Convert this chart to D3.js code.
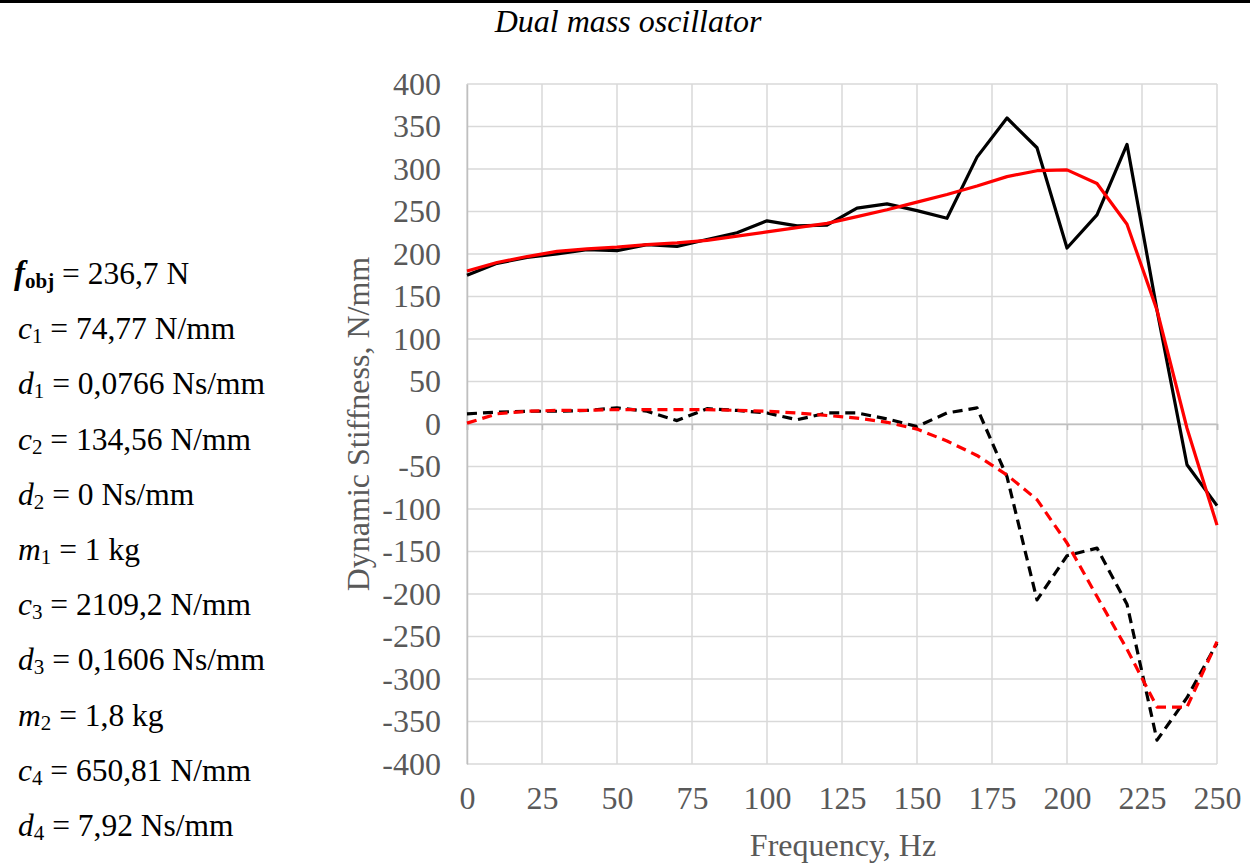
<!DOCTYPE html>
<html>
<head>
<meta charset="utf-8">
<script src="https://cdn.jsdelivr.net/npm/d3@7"></script>
<style>
  body { margin: 0; background: #fff; }
  svg { display: block; font-family: "Liberation Serif", "Times New Roman", serif; }
</style>
</head>
<body>
<svg id="chart" width="1250" height="865"></svg>
<script>
// ---- data ----
const freq = [0,10,20,30,40,50,60,70,80,90,100,110,120,130,140,150,160,170,180,190,200,210,220,230,240,250];
const realMeasured = [175,189,196,200,205,204,211,209,217,225,239,233,234,254,259,251,242,314,360,325,207,246,329,134,-48,-96];
const realModel    = [180,190,197,203,206,208,211,213,216,221,226,231,236,244,252,261,270,280,291,298,299,283,235,134,-5,-119];
const imagMeasured = [12,14,15,15,16,19,15,4,18,16,13,5,13,13,6,-3,13,19,-62,-207,-155,-146,-212,-372,-322,-258];
const imagModel    = [1,12,15,16,16,17,17,17,17,16,15,13,10,7,2,-6,-20,-37,-60,-89,-140,-203,-265,-333,-333,-256];
const yTicks = [400,350,300,250,200,150,100,50,0,-50,-100,-150,-200,-250,-300,-350,-400];
const xTicks = [0,25,50,75,100,125,150,175,200,225,250];
const paramSym = ["f","c","d","c","d","m","c","d","m","c","d"];
const paramSub = ["obj","1","1","2","2","1","3","3","2","4","4"];
const paramVal = ["236,7 N","74,77 N/mm","0,0766 Ns/mm","134,56 N/mm","0 Ns/mm","1 kg","2109,2 N/mm","0,1606 Ns/mm","1,8 kg","650,81 N/mm","7,92 Ns/mm"];
const titleText = "Dual mass oscillator";
const xTitle = "Frequency, Hz";
const yTitle = "Dynamic Stiffness, N/mm";

// ---- layout ----
const svg = d3.select("#chart");
const plot = {left: 467, right: 1217, top: 84, bottom: 764};
const x = d3.scaleLinear().domain([0,250]).range([plot.left, plot.right]);
const y = d3.scaleLinear().domain([-400,400]).range([plot.bottom, plot.top]);
const FS = 32;

svg.append("rect").attr("x",0).attr("y",0).attr("width",1250).attr("height",3).attr("fill","#000");

svg.append("text").attr("x", 628).attr("y", 32).attr("text-anchor","middle")
  .attr("font-style","italic").attr("font-size",FS).attr("fill","#000").text(titleText);

// grid
const grid = svg.append("g");
grid.selectAll("line.h").data(yTicks).join("line")
  .attr("x1", plot.left).attr("x2", plot.right)
  .attr("y1", d => y(d)).attr("y2", d => y(d))
  .attr("stroke", "#d9d9d9").attr("stroke-width", 1.5);
grid.selectAll("line.v").data(xTicks).join("line")
  .attr("y1", plot.top).attr("y2", plot.bottom)
  .attr("x1", d => x(d)).attr("x2", d => x(d))
  .attr("stroke", "#d9d9d9").attr("stroke-width", 1.5);

// axes
const yAxis = svg.append("g").attr("transform", `translate(${plot.left},0)`)
  .call(d3.axisLeft(y).tickValues(yTicks).tickSize(0).tickPadding(26).tickFormat(d => d));
yAxis.select(".domain").attr("stroke", "#bfbfbf").attr("stroke-width", 1.5);
yAxis.selectAll("text").attr("font-size", FS).attr("fill", "#595959")
  .attr("font-family", "Liberation Serif, serif");

// zero line with ticks
const xAxis0 = svg.append("g").attr("transform", `translate(0,${y(0)})`)
  .call(d3.axisBottom(x).tickValues(xTicks).tickSize(6).tickFormat(""));
xAxis0.select(".domain").attr("stroke", "#bfbfbf").attr("stroke-width", 1.5);
xAxis0.selectAll(".tick line").attr("stroke", "#bfbfbf").attr("stroke-width", 1.5);

// bottom x tick labels
const xAxisB = svg.append("g").attr("transform", `translate(0,${plot.bottom})`)
  .call(d3.axisBottom(x).tickValues(xTicks).tickSize(0).tickPadding(22).tickFormat(d => d));
xAxisB.select(".domain").remove();
xAxisB.selectAll("text").attr("font-size", FS).attr("fill", "#595959")
  .attr("font-family", "Liberation Serif, serif");

svg.append("text").attr("x", (plot.left+plot.right)/2 + 1).attr("y", 856).attr("text-anchor","middle")
  .attr("font-size", FS).attr("fill","#595959").text(xTitle);
svg.append("text").attr("transform", `translate(369,${y(0)}) rotate(-90)`).attr("text-anchor","middle")
  .attr("font-size", FS).attr("fill","#595959").text(yTitle);

// series
const line = vals => d3.line().x((d,i) => x(freq[i])).y(d => y(d))(vals);
const series = [
  {v: imagMeasured, c: "#000000", dash: "10,6"},
  {v: imagModel, c: "#ff0000", dash: "10,6"},
  {v: realMeasured, c: "#000000", dash: null},
  {v: realModel, c: "#ff0000", dash: null}
];
series.forEach(s => {
  svg.append("path").attr("d", line(s.v)).attr("fill","none")
    .attr("stroke", s.c).attr("stroke-width", 3.2).attr("stroke-linejoin","round")
    .attr("stroke-dasharray", s.dash);
});

// parameters
const params = svg.append("g").attr("font-size", 31.5).attr("fill", "#000");
paramSym.forEach((s, i) => {
  const t = params.append("text").attr("x", 18).attr("y", 284 + i*55.2);
  if (i === 0) {
    t.attr("x", 14);
    t.append("tspan").attr("font-style","italic").attr("font-weight","bold").attr("font-size", 33).text(s);
    t.append("tspan").attr("font-weight","bold").attr("font-size", 21).attr("dy", 4).text(paramSub[i]);
    t.append("tspan").attr("dy", -4).text(" = " + paramVal[i]);
  } else {
    t.append("tspan").attr("font-style","italic").text(s);
    t.append("tspan").attr("font-size", 21).attr("dy", 4).text(paramSub[i]);
    t.append("tspan").attr("dy", -4).text(" = " + paramVal[i]);
  }
});
</script>
</body>
</html>
